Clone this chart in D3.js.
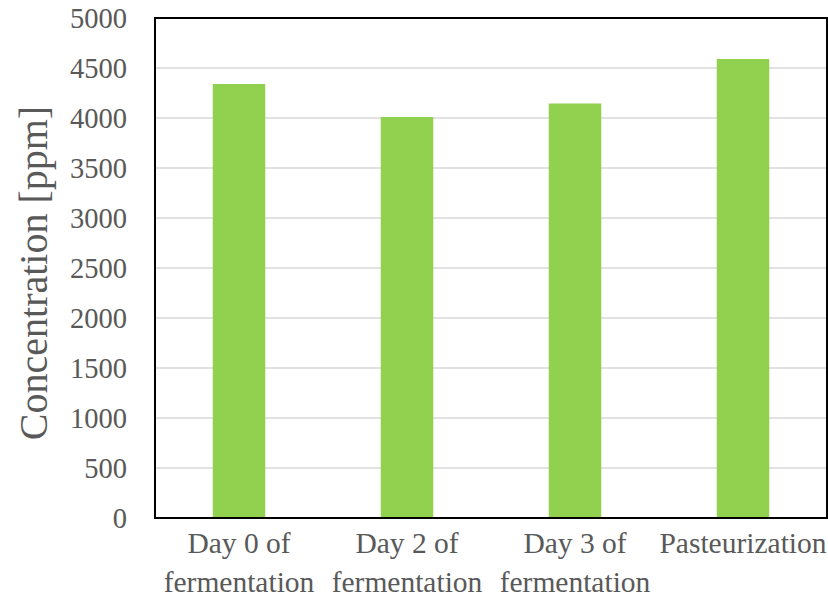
<!DOCTYPE html>
<html>
<head>
<meta charset="utf-8">
<script src="https://cdn.jsdelivr.net/npm/d3@7"></script>
<style>
  html, body { margin: 0; padding: 0; background: #fff; }
  svg { display: block; font-family: "Liberation Serif", "Times New Roman", serif; }
</style>
</head>
<body>
<svg id="chart" width="828" height="599"></svg>
<script>
// Sample stages (each label split over lines) and measured concentration
const categories = ["Day 0 of fermentation", "Day 2 of fermentation", "Day 3 of fermentation", "Pasteurization"];
const categoryLines = [["Day 0 of", "fermentation"], ["Day 2 of", "fermentation"], ["Day 3 of", "fermentation"], ["Pasteurization"]];
const concentration = [4340, 4010, 4145, 4590];
const yTicks = [0, 500, 1000, 1500, 2000, 2500, 3000, 3500, 4000, 4500, 5000];
const yLabel = "Concentration [ppm]";

const svg = d3.select("#chart");
const margin = { left: 155, top: 18, right: 1, bottom: 81 };
const W = 828, H = 599;
const x0 = margin.left, x1 = W - margin.right, y0 = H - margin.bottom, y1 = margin.top;

const x = d3.scaleBand().domain(categories).range([x0, x1])
  .paddingInner(0.6875).paddingOuter(0.34375);
const y = d3.scaleLinear().domain([0, 5000]).range([y0, y1]);

const textColor = "#595959";
const serif = "'Liberation Serif', 'Times New Roman', serif";

// horizontal gridlines
svg.append("g")
  .selectAll("line")
  .data(yTicks.filter(d => d > 0))
  .join("line")
  .attr("x1", x0).attr("x2", x1)
  .attr("y1", d => y(d)).attr("y2", d => y(d))
  .attr("stroke", "#d9d9d9").attr("stroke-width", 1.5);

// bars
svg.append("g")
  .selectAll("rect")
  .data(categories)
  .join("rect")
  .attr("x", d => x(d))
  .attr("width", x.bandwidth())
  .attr("y", (d, i) => y(concentration[i]))
  .attr("height", (d, i) => y(0) - y(concentration[i]))
  .attr("fill", "#92d050");

// plot area frame
svg.append("rect")
  .attr("x", x0).attr("y", y1)
  .attr("width", x1 - x0).attr("height", y0 - y1)
  .attr("fill", "none").attr("stroke", "#000").attr("stroke-width", 2);

// y axis tick labels
const yAxis = d3.axisLeft(y).tickValues(yTicks).tickSize(0).tickPadding(28).tickFormat(d3.format("d"));
const gy = svg.append("g").attr("transform", `translate(${x0},0)`).call(yAxis);
gy.select(".domain").remove();
gy.selectAll("text")
  .attr("fill", textColor)
  .style("font-size", "28.5px")
  .style("font-family", serif);

// x axis category labels
const xAxis = d3.axisBottom(x).tickSize(0).tickFormat("");
const gx = svg.append("g").attr("transform", `translate(0,${y0})`).call(xAxis);
gx.select(".domain").remove();
gx.selectAll(".tick").each(function (d, i) {
  const t = d3.select(this).append("text")
    .attr("text-anchor", "middle")
    .attr("fill", textColor)
    .style("font-size", "29.5px")
    .style("font-family", serif);
  categoryLines[i].forEach((line, k) => {
    t.append("tspan").attr("x", 0).attr("y", 35 + k * 39).text(line);
  });
});

// y axis title
svg.append("text")
  .attr("transform", "translate(47,273) rotate(-90)")
  .attr("text-anchor", "middle")
  .attr("fill", textColor)
  .style("font-size", "40px")
  .style("font-family", serif)
  .text(yLabel);
</script>
</body>
</html>
